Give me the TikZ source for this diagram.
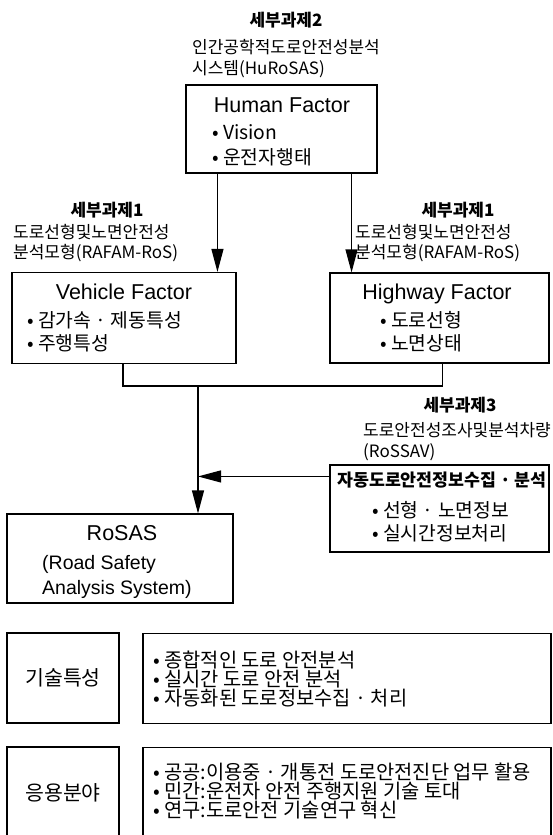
\documentclass[tikz,border=0pt]{standalone}
\usepackage{fontspec}
\setmainfont{Noto Sans CJK KR}
\newfontfamily\latinfont{Liberation Sans}
\usetikzlibrary{arrows.meta}

\begin{document}
\begin{tikzpicture}
      [x = 1pt, y = -1pt,
      box/.style= {
         draw,
         line width = 1.1pt,
         inner sep = 0pt
      },
      lbl/.style= {
         font = \fontsize{17}{20}\selectfont,
         inner sep = 0pt,
         anchor = base west
      },
      lblhead/.style= {
         font = \fontsize{17}{20}\selectfont\bfseries,
         inner sep = 0pt,
         anchor = base
      },
      ttl/.style= {
         font = \latinfont\fontsize{21.5}{25}\selectfont,
         inner sep = 0pt,
         anchor = base
      },
      itm/.style= {
         font = \fontsize{19.3}{23}\selectfont,
         inner sep = 0pt,
         anchor = base west
      },
      sub/.style= {
         font = \latinfont\fontsize{19.5}{25}\selectfont,
         inner sep = 0pt,
         anchor = base west
      },
      low/.style= {
         font = \fontsize{19.8}{19}\selectfont,
         inner sep = 0pt,
         anchor = base west
      },
      lowhead/.style= {
         font = \fontsize{20.5}{21}\selectfont,
         inner sep = 0pt,
         anchor = base
      },
      arr/.style= {-{Triangle[length = 23pt, width = 12pt]}, line width = 1.1pt}]

      \useasboundingbox (0, 0) rectangle (553, 835);

      % boxes
      \node[box, minimum width = 191pt, minimum height = 88pt] (hum) at (281.5, 129) {};
      \node[box, minimum width = 224pt, minimum height = 91pt] (veh) at (124, 318) {};
      \node[box, minimum width = 219pt, minimum height = 90pt] (hw) at (439.5, 318) {};
      \node[box, minimum width = 219pt, minimum height = 87pt] (sav) at (439.5, 508.5) {};
      \node[box, minimum width = 226pt, minimum height = 89pt] (ros) at (120, 558.5) {};
      \node[box, minimum width = 112pt, minimum height = 90pt] (tech) at (63, 678) {};
      \node[box, minimum width = 408pt, minimum height = 90pt] (techl) at (347, 678.5) {};
      \node[box, minimum width = 112pt, minimum height = 90pt] (appl) at (63, 792) {};
      \node[box, minimum width = 408pt, minimum height = 90pt] (appll) at (347, 792.5) {};

      % task labels
      \node[lblhead] (t2) at (286, 26.5) {세부과제2};
      \node[lbl] (t2a) at (192, 53.5) {인간공학적도로안전성분석};
      \node[lbl] (t2b) at (192, 74.5) {시스템(HuRoSAS)};
      \node[lblhead] (t1l) at (107, 216.5) {세부과제1};
      \node[lbl] (t1la) at (13, 238.5) {도로선형및노면안전성};
      \node[lbl] (t1lb) at (13, 258.5) {분석모형(RAFAM-RoS)};
      \node[lblhead] (t1r) at (458, 216.5) {세부과제1};
      \node[lbl] (t1ra) at (355, 238.5) {도로선형및노면안전성};
      \node[lbl] (t1rb) at (355, 258.5) {분석모형(RAFAM-RoS)};
      \node[lblhead] (t3) at (460, 411.5) {세부과제3};
      \node[lbl] (t3a) at (363, 436.5) {도로안전성조사및분석차량};
      \node[lbl] (t3b) at (363, 457.5) {(RoSSAV)};

      % box texts
      \node[ttl] (humt) at (282, 112.8) {Human Factor};
      \node[itm] (hum1) at (212, 139.3) {• Vision};
      \node[itm] (hum2) at (212, 164.3) {• 운전자행태};
      \node[ttl] (veht) at (124, 299.8) {Vehicle Factor};
      \node[itm] (veh1) at (27, 327.3) {• 감가속 · 제동특성};
      \node[itm] (veh2) at (27, 350.3) {• 주행특성};
      \node[ttl] (hwt) at (437, 299.8) {Highway Factor};
      \node[itm] (hw1) at (380, 327.3) {• 도로선형};
      \node[itm] (hw2) at (380, 350.3) {• 노면상태};
      \node[font = \fontsize{17.3}{20}\selectfont\bfseries, inner sep = 0pt, anchor = base]
         (savt) at (442, 486.5) {자동도로안전정보수집 · 분석};
      \node[itm] (sav1) at (372, 517.3) {• 선형 · 노면정보};
      \node[itm] (sav2) at (372, 540.3) {• 실시간정보처리};
      \node[ttl] (rost) at (122, 540.8) {RoSAS};
      \node[sub] (ros1) at (42, 569.2) {(Road Safety};
      \node[sub] (ros2) at (42, 594.2) {Analysis System)};

      \node[lowhead] (techt) at (63, 685.8) {기술특성};
      \node[low] (tech1) at (153, 667.5) {• 종합적인 도로 안전분석};
      \node[low] (tech2) at (153, 686.5) {• 실시간 도로 안전 분석};
      \node[low] (tech3) at (153, 705.5) {• 자동화된 도로정보수집 · 처리};
      \node[lowhead] (applt) at (63, 800.8) {응용분야};
      \node[low] (appl1) at (153, 779.5) {• 공공:이용중 · 개통전 도로안전진단 업무 활용};
      \node[low] (appl2) at (153, 798.5) {• 민간:운전자 안전 주행지원 기술 토대};
      \node[low] (appl3) at (153, 817.5) {• 연구:도로안전 기술연구 혁신};

      % connectors
      \coordinate (jn) at (198, 386);
      \draw[arr] ([xshift = 32pt]hum.south west) -- ([xshift = 32pt]hum.south west |- veh.north);
      \draw[arr] ([xshift = -26pt]hum.south east) -- ([xshift = -26pt]hum.south east |- hw.north);
      \draw[line width = 1.1pt] ([xshift = -1pt]veh.south) |- (jn) -| ([xshift = 3pt]hw.south);
      \draw[arr] (jn) -- (jn |- ros.north);
      \draw[arr] ([yshift = -12pt]sav.north west) -- ([yshift = -12pt]sav.north west -| jn);

   \end{tikzpicture}
\end{document}
